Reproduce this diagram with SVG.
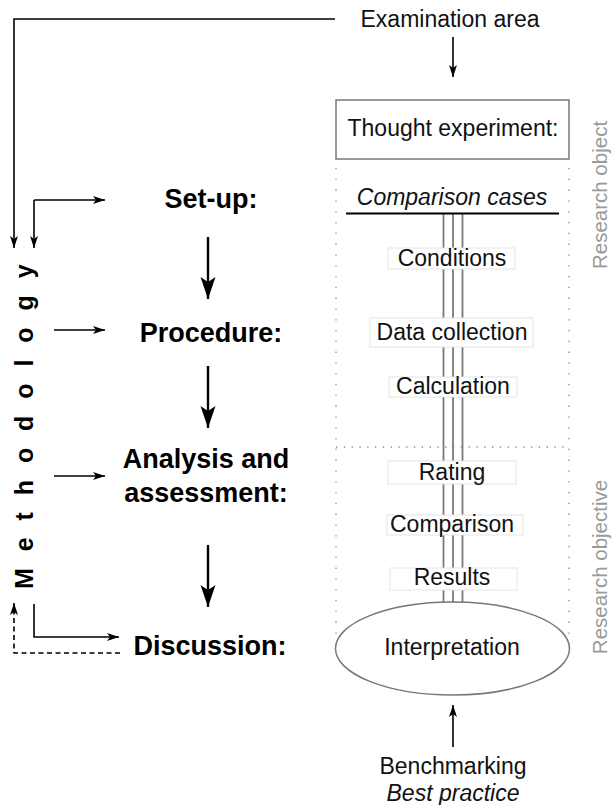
<svg xmlns="http://www.w3.org/2000/svg" width="613" height="805" viewBox="0 0 613 805">
  <style>
    .txt { font-family: "Liberation Sans", Arial, sans-serif; font-size: 23px; fill: #111; }
    .it { font-style: italic; }
    .step { font-family: "Liberation Sans", Arial, sans-serif; font-size: 27px; font-weight: bold; fill: #000; text-anchor: middle; }
    .side { font-family: "Liberation Sans", Arial, sans-serif; font-size: 20.5px; fill: #9a9a9a; text-anchor: middle; }
    .mid { text-anchor: middle; }
    .thin { stroke: #000; stroke-width: 1.6; fill: none; }
    .thick { stroke: #000; stroke-width: 2.4; fill: none; }
    .dash { stroke: #000; stroke-width: 1.6; fill: none; stroke-dasharray: 5 3.5; }
    .dotv { stroke: #8a8a8a; stroke-width: 1.3; fill: none; stroke-dasharray: 1.3 9.5; }
    .doth { stroke: #8a8a8a; stroke-width: 1.3; fill: none; stroke-dasharray: 1.3 6.5; }
    .strand { stroke: #7a7a7a; stroke-width: 1.8; fill: none; }
    .tag { fill: #fff; stroke: #e4e4e4; stroke-width: 1; }
    .frame { fill: #fff; stroke: #777; stroke-width: 1.5; }
  </style>
  <defs>
    <marker id="head-s" markerUnits="userSpaceOnUse" markerWidth="13" markerHeight="9" refX="12" refY="4" orient="auto">
      <path d="M0,0 L12,4 L0,8 L3,4 z" fill="#000"/>
    </marker>
    <marker id="head-l" markerUnits="userSpaceOnUse" markerWidth="23" markerHeight="16" refX="22" refY="7.5" orient="auto">
      <path d="M0,0 L22,7.5 L0,15 L5,7.5 z" fill="#000"/>
    </marker>
  </defs>

  <!-- connectors -->
  <g id="connectors">
    <path class="thin" d="M335,19 H14 V248" marker-end="url(#head-s)"/>
    <path class="thin" d="M453,37 V77" marker-end="url(#head-s)"/>
    <path class="thin" d="M34,200 V248" marker-end="url(#head-s)"/>
    <path class="thin" d="M34,200 H105" marker-end="url(#head-s)"/>
    <path class="thin" d="M54,330 H105" marker-end="url(#head-s)"/>
    <path class="thin" d="M54,476 H105" marker-end="url(#head-s)"/>
    <path class="thin" d="M34,604 V637 H119" marker-end="url(#head-s)"/>
    <path class="dash" d="M120,653 H14 V603" marker-end="url(#head-s)"/>
    <path class="thick" d="M208,237 V299" marker-end="url(#head-l)"/>
    <path class="thick" d="M208,366 V428" marker-end="url(#head-l)"/>
    <path class="thick" d="M208,545 V607" marker-end="url(#head-l)"/>
    <path class="thin" d="M453,747 V705" marker-end="url(#head-s)"/>
    <!-- strands from comparison cases down to interpretation -->
    <line class="strand" x1="443.5" y1="214" x2="443.5" y2="604"/>
    <line class="strand" x1="453" y1="214" x2="453" y2="603"/>
    <line class="strand" x1="462.5" y1="214" x2="462.5" y2="604"/>
  </g>

  <!-- dotted frame of the research column -->
  <g id="frame">
    <line class="dotv" x1="336" y1="168" x2="336" y2="640"/>
    <line class="dotv" x1="569" y1="168" x2="569" y2="640"/>
    <line class="doth" x1="336" y1="447" x2="569" y2="447"/>
  </g>

  <g id="examination-area">
    <text class="txt mid" x="450" y="27">Examination area</text>
  </g>

  <g id="thought-experiment">
    <rect class="frame" x="336" y="100" width="233" height="59"/>
    <text class="txt mid" x="453" y="136">Thought experiment:</text>
  </g>

  <g id="comparison-cases">
    <text class="txt it mid" x="452" y="205">Comparison cases</text>
    <line stroke="#000" stroke-width="2" x1="346" y1="213.5" x2="559" y2="213.5"/>
  </g>

  <g id="conditions">
    <rect class="tag" x="388" y="248" width="127" height="21"/>
    <text class="txt mid" x="452" y="266">Conditions</text>
  </g>
  <g id="data-collection">
    <rect class="tag" x="370" y="318" width="163" height="29"/>
    <text class="txt mid" x="452" y="340">Data collection</text>
  </g>
  <g id="calculation">
    <rect class="tag" x="389" y="377" width="128" height="20"/>
    <text class="txt mid" x="453" y="394">Calculation</text>
  </g>
  <g id="rating">
    <rect class="tag" x="388" y="461" width="128" height="23"/>
    <text class="txt mid" x="452" y="480">Rating</text>
  </g>
  <g id="comparison">
    <rect class="tag" x="387" y="515" width="136" height="20"/>
    <text class="txt mid" x="452" y="532">Comparison</text>
  </g>
  <g id="results">
    <rect class="tag" x="390" y="568" width="127" height="22"/>
    <text class="txt mid" x="452" y="585">Results</text>
  </g>

  <g id="interpretation">
    <ellipse class="frame" cx="452.5" cy="648.5" rx="117" ry="46.5"/>
    <text class="txt mid" x="452" y="655">Interpretation</text>
  </g>

  <g id="benchmarking">
    <text class="txt mid" x="453" y="774">Benchmarking</text>
    <text class="txt it mid" x="453" y="801">Best practice</text>
  </g>

  <g id="research-object">
    <text class="side" transform="translate(607,195) rotate(-90)">Research object</text>
  </g>
  <g id="research-objective">
    <text class="side" transform="translate(607,567) rotate(-90)">Research objective</text>
  </g>

  <g id="methodology">
    <text font-family="Liberation Sans, Arial, sans-serif" font-size="25" font-weight="bold" letter-spacing="16.9" fill="#000" transform="translate(33,589) rotate(-90)">Methodology</text>
  </g>

  <g id="set-up">
    <text class="step" x="211" y="208">Set-up:</text>
  </g>
  <g id="procedure">
    <text class="step" x="211" y="342">Procedure:</text>
  </g>
  <g id="analysis">
    <text class="step" x="206" y="468">Analysis and</text>
    <text class="step" x="206" y="502">assessment:</text>
  </g>
  <g id="discussion">
    <text class="step" x="210" y="655">Discussion:</text>
  </g>
</svg>
